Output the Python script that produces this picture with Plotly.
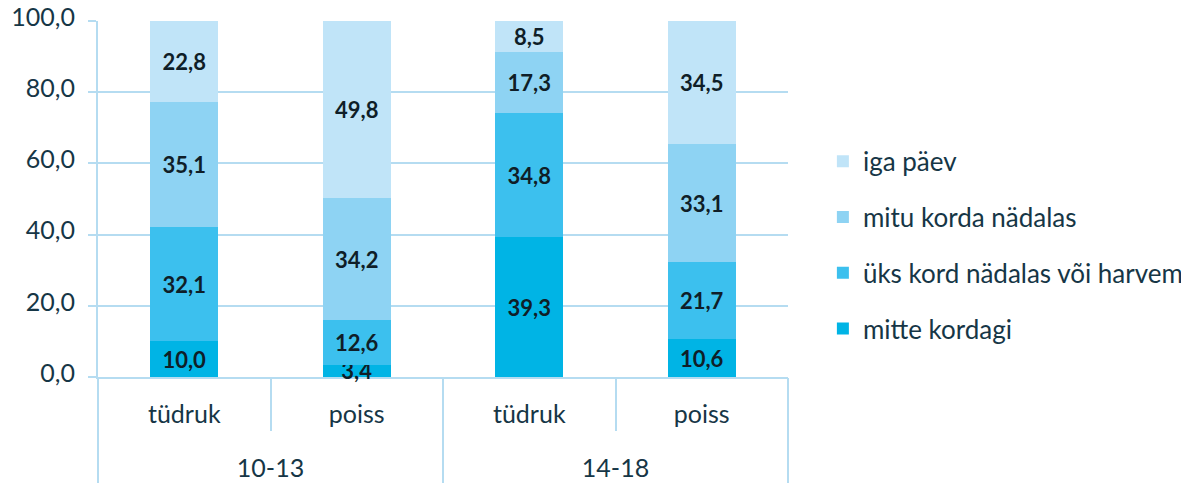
import plotly.graph_objects as go

age_groups = ["10-13", "10-13", "14-18", "14-18"]
genders = ["tüdruk", "poiss", "tüdruk", "poiss"]
outer_labels = ["10-13", "14-18"]

series_names = ["mitte kordagi", "üks kord nädalas või harvem", "mitu korda nädalas", "iga päev"]
mitte_kordagi = [10.0, 3.4, 39.3, 10.6]
uks_kord = [32.1, 12.6, 34.8, 21.7]
mitu_korda = [35.1, 34.2, 17.3, 33.1]
iga_paev = [22.8, 49.8, 8.5, 34.5]
series_values = [mitte_kordagi, uks_kord, mitu_korda, iga_paev]
colors = ["#00b4e5", "#3cc0ee", "#8ed3f3", "#c0e4f8"]

y_ticks = [0, 20, 40, 60, 80, 100]

axis_color = "#b5dcf1"
text_color = "#163646"
font_family = "Lato, 'Open Sans', sans-serif"

# unique category ids for the inner level
cat_ids = [f"{a} {g}" for a, g in zip(age_groups, genders)]
n = len(cat_ids)
# group centres and boundaries along the category index scale
group_centres = []
group_bounds = [-0.5]
for lab in outer_labels:
    idx = [i for i, a in enumerate(age_groups) if a == lab]
    group_centres.append(sum(idx) / len(idx))
    group_bounds.append(max(idx) + 0.5)
group_bounds[-1] -= 1e-4  # keep the closing divider inside the axis range

fig = go.Figure()
for k, (name, vals, col) in enumerate(zip(series_names, series_values, colors)):
    fig.add_trace(go.Bar(
        x=cat_ids,
        y=vals,
        name=name,
        marker=dict(color=col, line=dict(width=0)),
        texttemplate="<b>%{y:.1f}</b>",
        textposition="inside",
        insidetextanchor="middle",
        textfont=dict(size=22, color="#0f1e28", family=font_family),
        cliponaxis=False,
        legendgroup=name,
        legendrank=len(series_names) - k,
        hoverinfo="skip",
    ))

# invisible helper trace so the outer-level axis is drawn
fig.add_trace(go.Scatter(
    x=group_centres, y=[0] * len(group_centres),
    xaxis="x2", yaxis="y", mode="markers",
    marker=dict(opacity=0, size=1),
    showlegend=False, hoverinfo="skip",
))

fig.update_layout(
    barmode="stack",
    bargap=0.605,
    width=1181,
    height=475,
    margin=dict(l=90, r=401, t=13, b=106),
    paper_bgcolor="white",
    plot_bgcolor="white",
    separators=", ",
    font=dict(family=font_family, size=25, color=text_color),
    uniformtext=dict(mode="show", minsize=22),
    legend=dict(
        traceorder="grouped",
        xref="container",
        x=0.690, xanchor="left",
        y=0.37, yanchor="middle",
        font=dict(size=26, color=text_color),
        tracegroupgap=19,
        bgcolor="rgba(0,0,0,0)",
    ),
    showlegend=True,
    xaxis=dict(
        type="category",
        categoryorder="array",
        categoryarray=cat_ids,
        tickvals=cat_ids,
        ticktext=genders,
        range=[-0.5, n - 0.5],
        showline=True,
        linecolor=axis_color,
        linewidth=2,
        layer="below traces",
        ticks="",
        ticklabelstandoff=14,
        showgrid=False,
        automargin=False,
        tickfont=dict(size=25, color=text_color),
    ),
    xaxis2=dict(
        overlaying="x",
        anchor="y",
        side="bottom",
        type="linear",
        range=[-0.5, n - 0.5],
        tickmode="array",
        tickvals=group_centres,
        ticktext=outer_labels,
        ticks="outside",
        ticklen=53,
        tickwidth=2,
        tickcolor=axis_color,
        ticklabelstandoff=16,
        minor=dict(
            tickmode="array",
            tickvals=group_bounds,
            ticks="outside",
            ticklen=106,
            tickwidth=2,
            tickcolor=axis_color,
            showgrid=False,
        ),
        layer="below traces",
        showgrid=False,
        zeroline=False,
        showline=False,
        automargin=False,
        fixedrange=True,
        tickfont=dict(size=25, color=text_color),
    ),
)

fig.update_yaxes(
    range=[0, 100],
    tickvals=y_ticks,
    tickformat=".1f",
    showgrid=True,
    gridcolor=axis_color,
    gridwidth=2,
    showline=True,
    linecolor=axis_color,
    linewidth=2,
    layer="below traces",
    ticks="outside",
    ticklen=8,
    tickcolor=axis_color,
    tickwidth=2,
    zeroline=False,
    automargin=False,
    ticklabeloverflow="allow",
    ticklabelstandoff=8,
    ticklabelshift=-4,
    tickfont=dict(size=25, color=text_color),
)

fig.write_html("out.html")
